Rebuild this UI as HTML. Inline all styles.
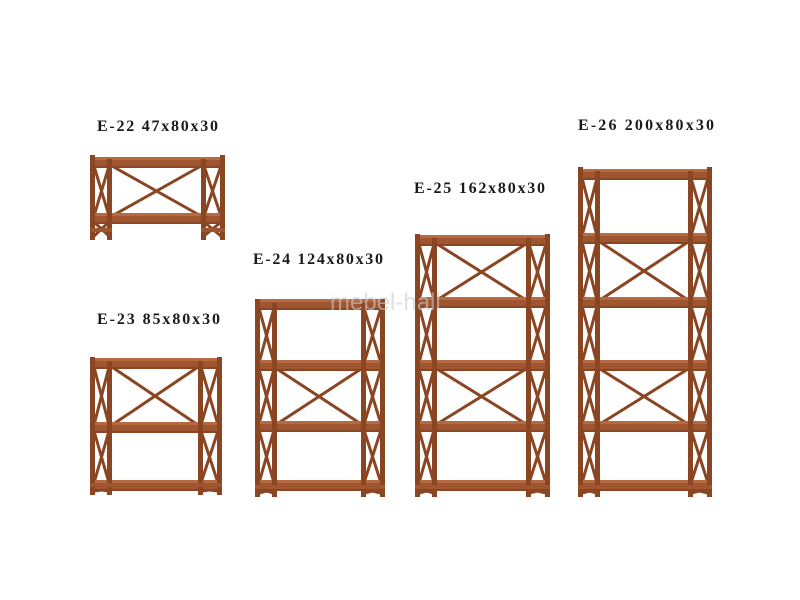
<!DOCTYPE html>
<html><head><meta charset="utf-8"><style>
html,body{margin:0;padding:0;background:#fff;width:800px;height:600px;overflow:hidden}
svg{display:block}
text{font-family:"Liberation Serif",serif;font-weight:bold;font-size:16px;fill:#1a1a1a}
</style></head><body>
<svg id="s" width="800" height="600" xmlns="http://www.w3.org/2000/svg">
<text x="97" y="131" textLength="121" lengthAdjust="spacing">E-22 47x80x30</text>
<text x="97" y="324" textLength="123" lengthAdjust="spacing">E-23 85x80x30</text>
<text x="253" y="264" textLength="130" lengthAdjust="spacing">E-24 124x80x30</text>
<text x="414" y="193" textLength="131" lengthAdjust="spacing">E-25 162x80x30</text>
<text x="578" y="130" textLength="136" lengthAdjust="spacing">E-26 200x80x30</text>
<g id="g"></g>
<text x="330" y="310" style="font-family:'Liberation Sans',sans-serif;font-weight:normal;font-size:24px;fill:#ccc;opacity:.6">mebel-hall</text>
</svg>
<script>
var units=[
 {x:90,w:135,top:155,bot:240,sh:[160,216],bx:[0]},
 {x:90,w:132,top:357,bot:495,sh:[361,425,483],bx:[0]},
 {x:255,w:130,top:299,bot:497,sh:[302,363,424,483],bx:[1]},
 {x:415,w:135,top:234,bot:497,sh:[238,300,363,424,483],bx:[0,2]},
 {x:578,w:134,top:167,bot:497,sh:[172,236,300,363,424,483],bx:[1,3]}
];
var h='',D='#8a4522',M='#9e5530',L='#b56a42';
function r(x,y,w,hh,c){h+='<rect x="'+x+'" y="'+y+'" width="'+w+'" height="'+hh+'" fill="'+c+'"/>';}
function l(x1,y1,x2,y2,w){h+='<line x1="'+x1+'" y1="'+y1+'" x2="'+x2+'" y2="'+y2+'" stroke="'+D+'" stroke-width="'+(w||3)+'"/>';}
units.forEach(function(u){
 var x=u.x,R=u.x+u.w,lw=22,rw=24;
 u.bx.forEach(function(i){var a=u.sh[i]+6,b=u.sh[i+1];l(x+lw,a,R-rw,b,3);l(x+lw,b,R-rw,a,3);});
 r(x+lw-4,u.top+2,3,u.bot-u.top-6,D);r(R-rw+2,u.top+2,3,u.bot-u.top-6,D);
 for(var i=0;i<u.sh.length;i++){var a=u.sh[i]+6,b=(i+1<u.sh.length?u.sh[i+1]:u.bot-4);
  l(x+4,a,x+lw-3,b,3);l(x+4,b,x+lw-3,a,3);l(R-rw+3,a,R-4,b,3);l(R-rw+3,b,R-4,a,3);}
 u.sh.forEach(function(y,k){r(x+2,y-3,u.w-4,4,L);r(x,y,u.w,7,M);r(x,y+6,u.w,2,D);});
 r(x,u.top,5,u.bot-u.top,D);r(x+lw-5,u.top+4,5,u.bot-u.top-4,D);
 r(R-rw,u.top+4,5,u.bot-u.top-4,D);r(R-5,u.top,5,u.bot-u.top,D);
 r(x,u.bot-12,lw,4,M);r(R-rw,u.bot-12,rw,4,M);
});
document.getElementById('g').innerHTML=h;
</script>
</body></html>
